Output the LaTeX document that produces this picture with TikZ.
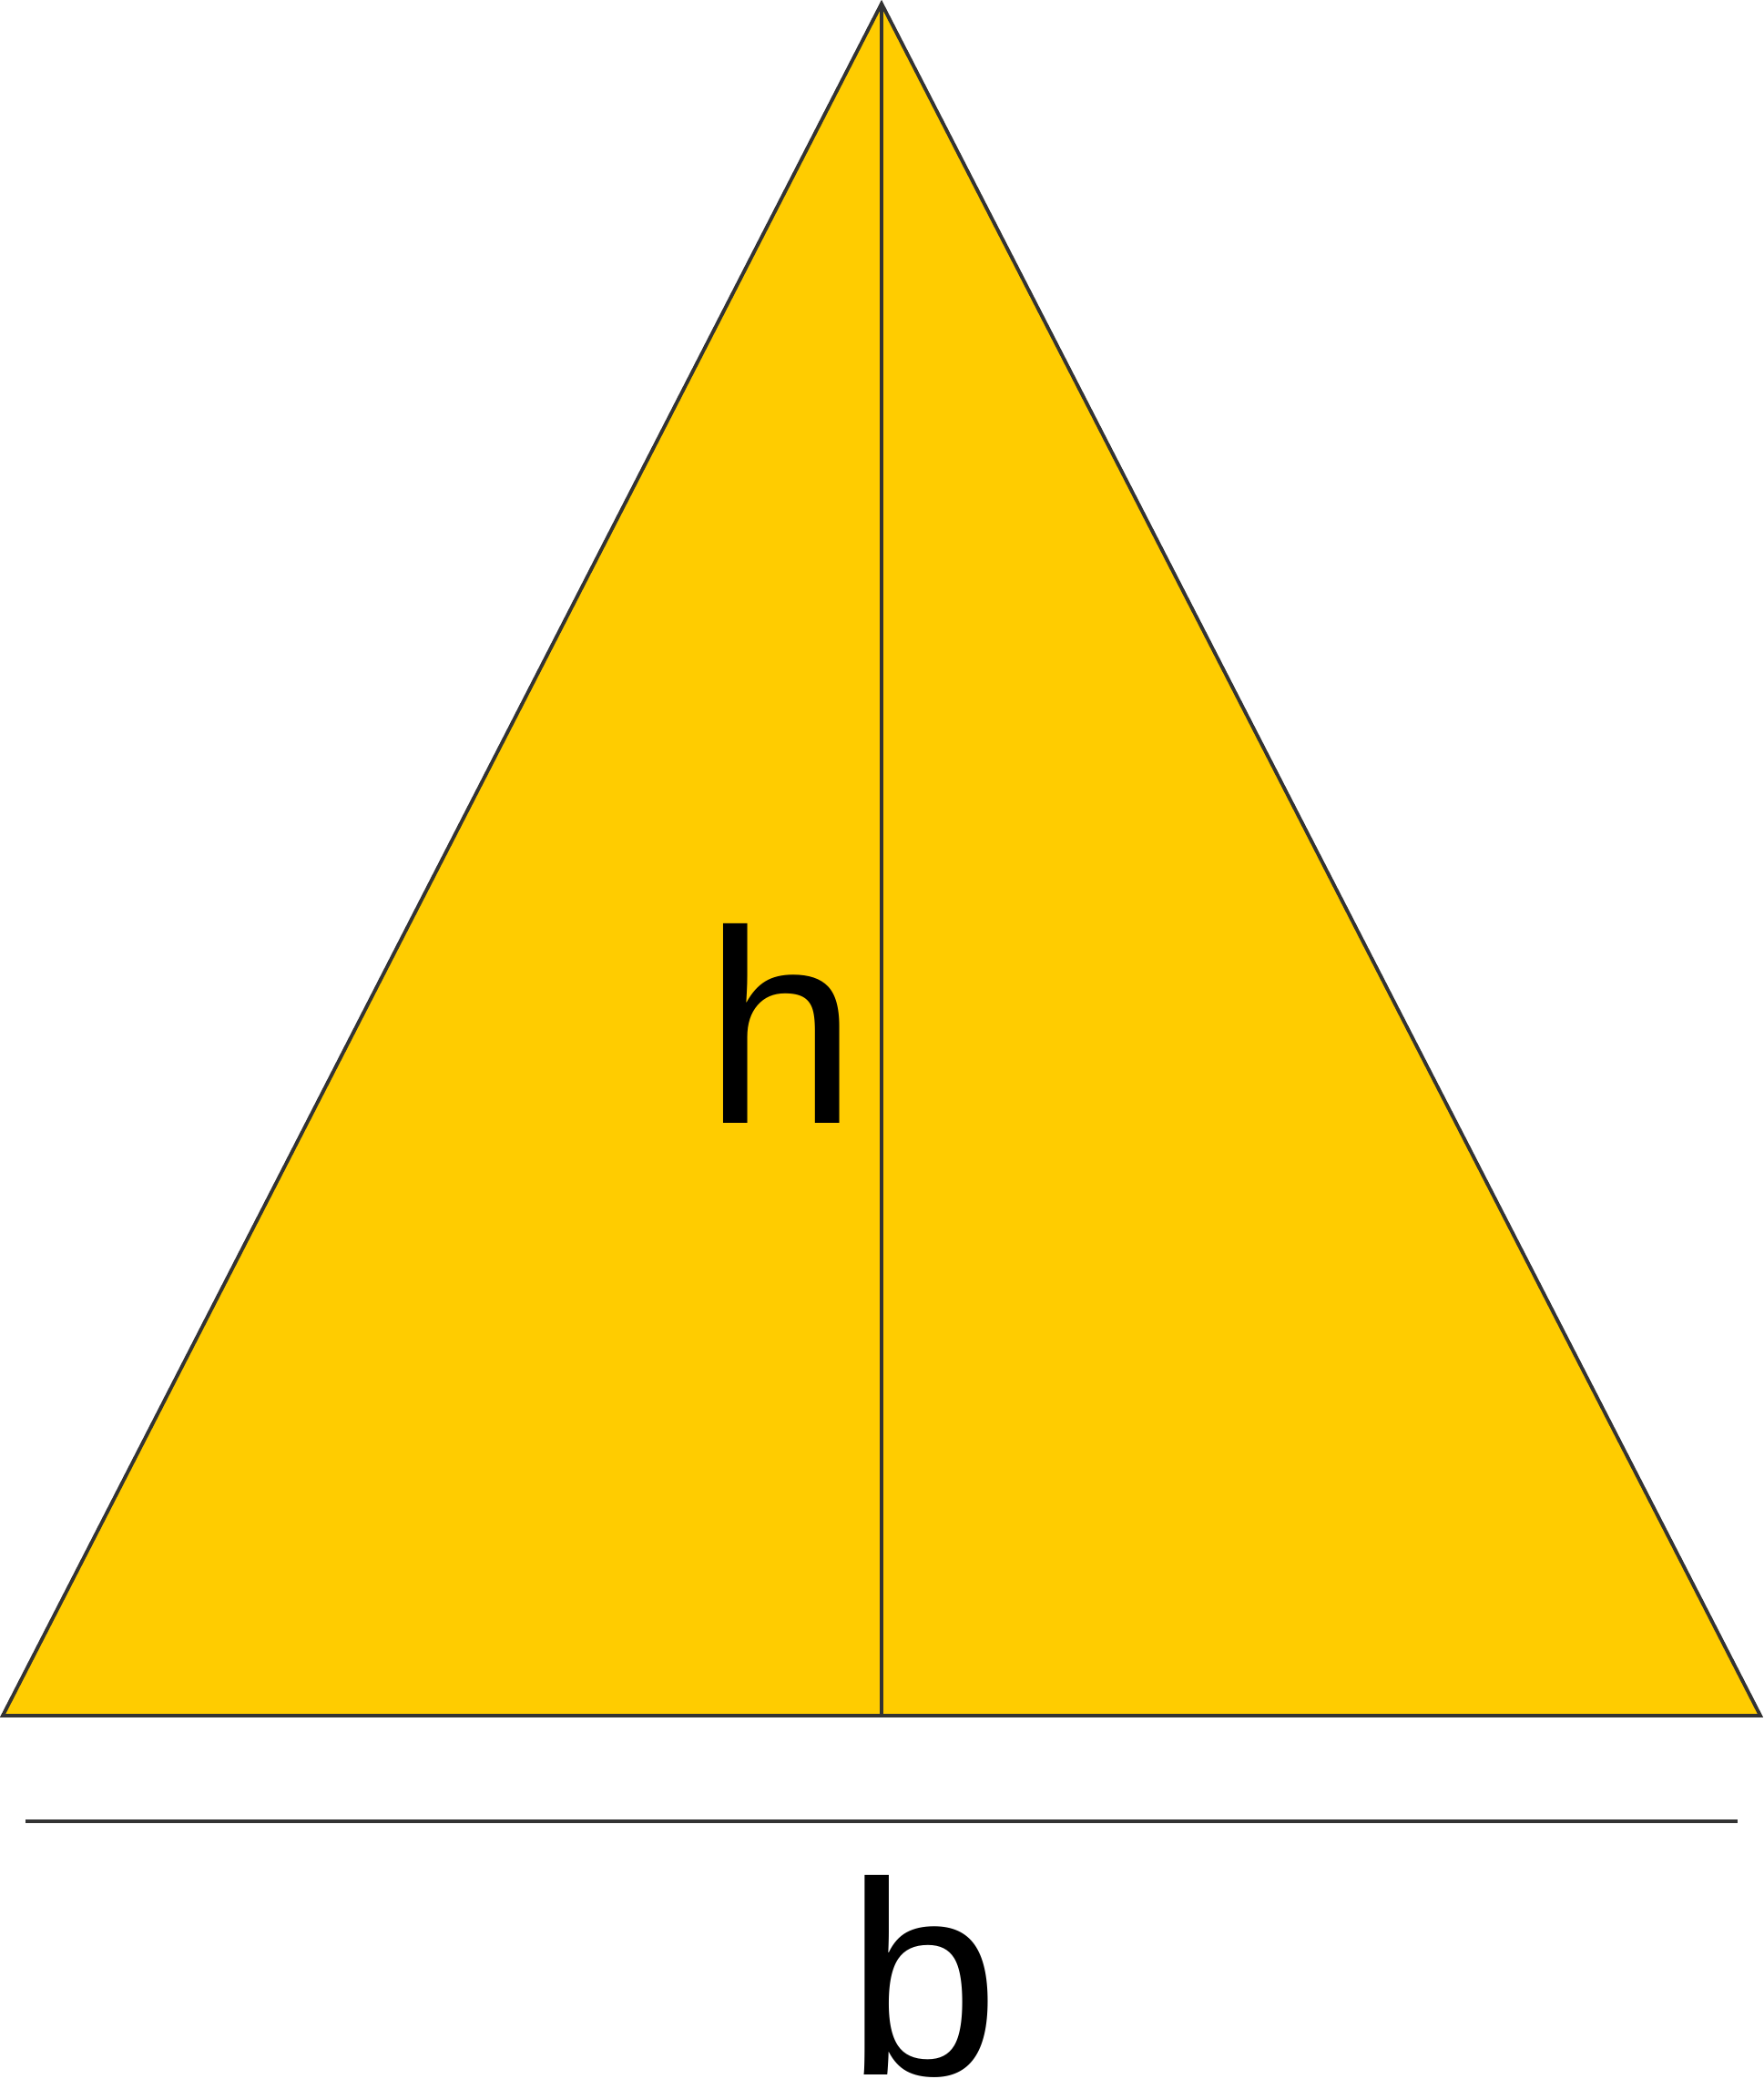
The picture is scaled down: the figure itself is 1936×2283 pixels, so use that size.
\documentclass[tikz,border=0pt]{standalone}
\usepackage{fontspec}
\setmainfont{Liberation Sans}
\usepackage{xcolor}
\usetikzlibrary{positioning, calc}
\definecolor{triyellow}{HTML}{FFCC00}
\definecolor{edgegray}{HTML}{333333}
\tikzset{
  tri/.style   ={draw=edgegray, line width=1.1pt, fill=triyellow, line join=miter},
  rule/.style  ={draw=edgegray, line width=1.1pt},
  lbl/.style   ={font=\fontsize{86}{86}\selectfont, text=black, inner sep=0pt, anchor=base}
}
\begin{document}
\begin{tikzpicture}[x=0.01cm, y=-0.01cm]
\useasboundingbox (0,0) rectangle (1936,2283);
% corners of the triangle
\coordinate (apex)  at (968,4);
\coordinate (bl)    at (3,1884);
\coordinate (br)    at (1933,1884);
\coordinate (foot)  at (968,1884);
% base measure line
\coordinate (bstart) at (28,2000);
\coordinate (bend)   at (1908,2000);
\draw[tri] (bl) -- (apex) -- (br) -- cycle;
\draw[rule] (apex) -- (foot);
\draw[rule] (bstart) -- (bend);
\node[lbl] (hlab) at (858,1233) {h};
\node[lbl] (blab) at (1014,2278) {b};
\end{tikzpicture}
\end{document}
